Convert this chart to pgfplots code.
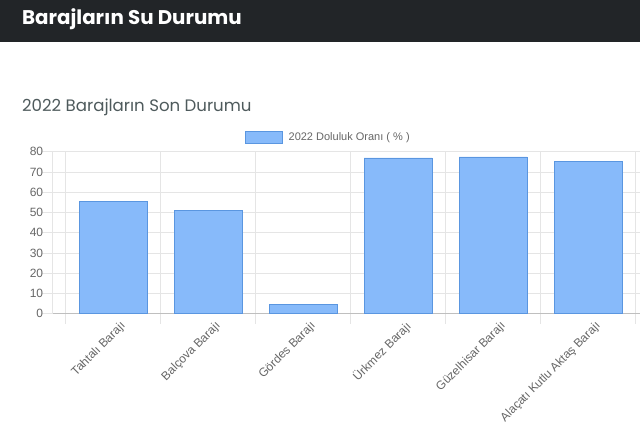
\documentclass[border=0pt]{standalone}
\usepackage{fontspec}
\setmainfont{Liberation Sans}
\newfontfamily\poppins{Poppins}
\usepackage{pgfplots}
\pgfplotsset{compat=1.18}

\definecolor{headbg}{HTML}{222528}
\definecolor{titlec}{RGB}{78,90,92}
\definecolor{tickc}{HTML}{666666}
\definecolor{gridc}{HTML}{E5E5E5}
\definecolor{zeroc}{HTML}{BFBFBF}
\definecolor{barfill}{HTML}{87BAFA}
\definecolor{barline}{HTML}{5A96E0}

\begin{document}
\begin{tikzpicture}
\useasboundingbox (0,0) rectangle (640bp,-435bp);
% page header
\fill[headbg] (0,0) rectangle (640bp,-42bp);
\node[anchor=base west, inner sep=0pt, text=white,
      font=\poppins\bfseries\fontsize{19.8bp}{24bp}\selectfont]
  at (22bp,-24.3bp) {Barajların Su Durumu};
\node[anchor=base west, inner sep=0pt, text=titlec,
      font=\poppins\fontsize{16.6bp}{20bp}\selectfont]
  at (22bp,-111bp) {2022 Barajların Son Durumu};

\begin{axis}[
    scale only axis,
    width=587.7bp, height=162bp,
    at={(52.3bp,-313.7bp)}, anchor=south west,
    xmin=-0.641, xmax=5.545,
    ymin=0, ymax=80,
    ytick={0,10,...,80},
    xtick={-0.5,0.5,...,5.5},
    xticklabels={,,,,,,,},
    extra x ticks={0,1,2,3,4,5},
    extra x tick labels={Tahtalı Barajı,Balçova Barajı,Gördes Barajı,%
      Ürkmez Barajı,Güzelhisar Barajı,Alaçatı Kutlu Aktaş Barajı},
    extra x tick style={major tick length=0pt, grid=none,
      tick label style={rotate=45, anchor=north east, inner sep=0pt,
        yshift=-9bp, text=tickc, font=\fontsize{12bp}{14bp}\selectfont}},
    xmajorgrids, ymajorgrids,
    grid style={draw=gridc, line width=0.8bp},
    tick style={draw=gridc, line width=0.8bp},
    tick align=outside,
    major tick length=10bp,
    axis x line*=bottom, axis y line*=left,
    x axis line style={-, draw=zeroc, line width=0.8bp},
    y axis line style={-, draw=gridc, line width=0.8bp},
    /pgf/number format/assume math mode=true,
    yticklabel style={text=tickc, font=\fontsize{12bp}{14bp}\selectfont,
      inner sep=0pt, xshift=1bp},
    legend style={at={(0.4683,1.0907)}, anchor=center, draw=none, fill=none,
      inner sep=0pt, font=\fontsize{11bp}{13bp}\selectfont, text=tickc,
      nodes={inner sep=0pt},
      /tikz/every odd column/.append style={column sep=5.5bp}},
    legend image code/.code={%
      \draw[draw=barline, fill=barfill, line width=0.8bp]
        (0bp,-6bp) rectangle (37bp,6bp);},
  ]
\addplot[ybar, bar width=0.716, draw=barline, fill=barfill, line width=0.8bp]
  coordinates {(0,55.3) (1,50.9) (2,4.6) (3,76.9) (4,77.4) (5,75.3)};
\addlegendentry{2022 Doluluk Oranı ( \% )}
\end{axis}
\end{tikzpicture}
\end{document}
